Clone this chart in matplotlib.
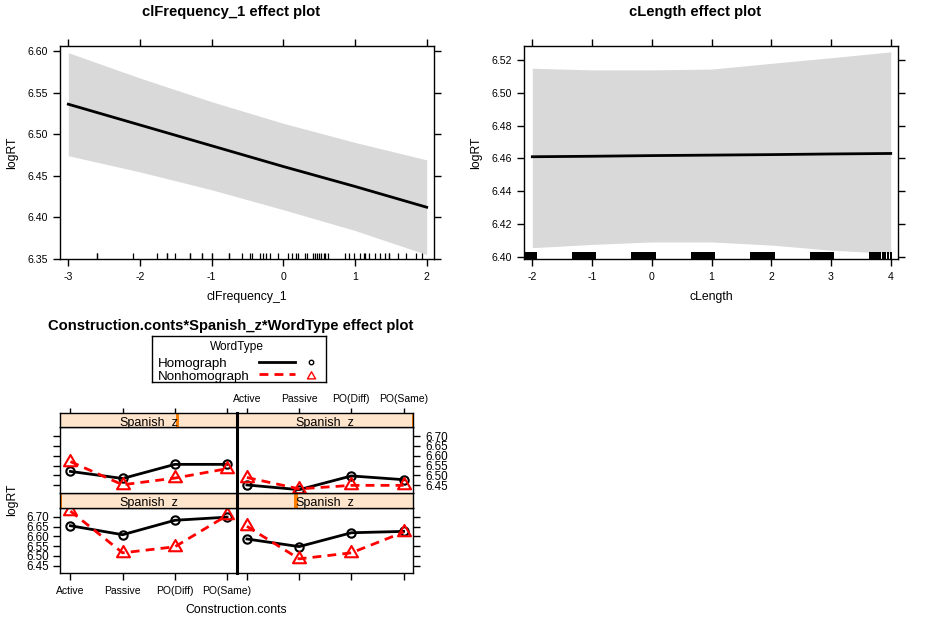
import numpy as np
import matplotlib
matplotlib.use('Agg')
import matplotlib.pyplot as plt
from matplotlib.lines import Line2D
from matplotlib.path import Path
from matplotlib.patches import Rectangle

plt.rcParams['font.family'] = ['Liberation Sans', 'DejaVu Sans']

# ---------------- data ----------------
# clFrequency_1 effect
freq_x = [-3, -2, -1, 0, 1, 2]
freq_fit = [6.536, 6.511, 6.486, 6.461, 6.437, 6.412]
freq_upper = [6.598, 6.5675, 6.539, 6.513, 6.490, 6.469]
freq_lower = [6.474, 6.4545, 6.433, 6.409, 6.384, 6.355]
freq_rug = [-2.605, -2.60, -2.093, -1.758, -1.628, -1.62, -1.507, -1.302, -1.296,
            -1.140, -1.134, -1.0, -0.994, -0.758, -0.752, -0.572, -0.467, -0.435,
            -0.327, -0.28, -0.248, -0.187, -0.07, 0.07, 0.117, 0.173, 0.2, 0.304,
            0.327, 0.42, 0.444, 0.467, 0.5, 0.528, 0.561, 0.584, 0.621, 0.864,
            0.911, 0.98, 1.075, 1.121, 1.145, 1.2, 1.285, 1.355, 1.425, 1.472,
            1.48, 1.6, 1.706, 1.846, 1.94]
freq_xticks = [-3, -2, -1, 0, 1, 2]
freq_yticks = [6.35, 6.40, 6.45, 6.50, 6.55, 6.60]

# cLength effect
len_x = [-2, -1, 0, 1, 2, 3, 4]
len_fit = [6.4610, 6.4613, 6.4617, 6.4620, 6.4623, 6.4627, 6.4630]
len_upper = [6.5150, 6.5140, 6.5140, 6.5145, 6.5180, 6.5214, 6.5250]
len_lower = [6.4055, 6.4075, 6.4090, 6.4090, 6.4071, 6.4040, 6.4020]
len_rug_blocks = [(-2.134, -1.927), (-1.330, -0.940), (-0.348, 0.065),
                  (0.656, 1.058), (1.644, 2.063), (2.648, 3.050),
                  (3.636, 3.837), (3.848, 3.915), (3.932, 3.971),
                  (3.993, 4.015), (4.032, 4.043)]
len_xticks = [-2, -1, 0, 1, 2, 3, 4]
len_yticks = [6.40, 6.42, 6.44, 6.46, 6.48, 6.50, 6.52]

# Construction.conts * Spanish_z * WordType effect (panels 1..4 = BL, BR, TL, TR)
constructions = ['Active', 'Passive', 'PO(Diff)', 'PO(Same)']
homograph = [
    [6.654, 6.608, 6.682, 6.698],
    [6.586, 6.547, 6.618, 6.625],
    [6.520, 6.484, 6.556, 6.556],
    [6.451, 6.427, 6.497, 6.478],
]
nonhomograph = [
    [6.729, 6.515, 6.546, 6.707],
    [6.651, 6.484, 6.515, 6.621],
    [6.570, 6.452, 6.486, 6.534],
    [6.489, 6.431, 6.449, 6.449],
]
spanish_z_pos = [0.0, 0.335, 0.663, 1.0]   # shingle indicator position in strip
lattice_yticks = [6.45, 6.50, 6.55, 6.60, 6.65, 6.70]

# ---------------- figure ----------------
W, H = 928, 627
fig = plt.figure(figsize=(W / 100, H / 100), dpi=100)


def rect(x0, y0, x1, y1):
    return [x0 / W, 1 - y1 / H, (x1 - x0) / W, (y1 - y0) / H]


def fx(x):
    return x / W


def fy(y):
    return 1 - y / H


BAND = '#D9D9D9'
TITLE_FS = 10.6
LABEL_FS = 8.8
TICK_FS = 7.6


def style_top(ax):
    for s in ax.spines.values():
        s.set_linewidth(1.0)
    ax.tick_params(direction='out', length=5, width=1, top=True, right=True,
                   labeltop=False, labelright=False, labelsize=TICK_FS)
    ax.tick_params(axis='y', pad=4)
    ax.tick_params(axis='x', pad=4.5)


# ---- clFrequency_1 plot ----
ax1 = fig.add_axes(rect(60.3, 46.3, 434.3, 259))
ax1.fill_between(freq_x, freq_lower, freq_upper, color=BAND, lw=0)
ax1.plot(freq_x, freq_fit, color='black', lw=2)
ax1.vlines(freq_rug, 0, 0.028, transform=ax1.get_xaxis_transform(),
           color='black', lw=0.9)
ax1.set_xlim(-3.112, 2.106)
ax1.set_ylim(6.3497, 6.6057)
ax1.set_xticks(freq_xticks)
ax1.set_xticklabels([str(v) for v in freq_xticks])
ax1.set_yticks(freq_yticks)
ax1.set_yticklabels(['%.2f' % v for v in freq_yticks])
style_top(ax1)
fig.text(fx(231), fy(12), 'clFrequency_1 effect plot', ha='center', va='center',
         fontsize=TITLE_FS, fontweight='bold')
fig.text(fx(247), fy(297), 'clFrequency_1', ha='center', va='center',
         fontsize=LABEL_FS)
fig.text(fx(12), fy(153), 'logRT', ha='center', va='center', fontsize=LABEL_FS,
         rotation=90)

# ---- cLength plot ----
ax2 = fig.add_axes(rect(524.3, 46.3, 898, 259))
ax2.fill_between(len_x, len_lower, len_upper, color=BAND, lw=0)
ax2.plot(len_x, len_fit, color='black', lw=2)
ax2.broken_barh([(a, b - a) for a, b in len_rug_blocks], (0, 0.033),
                transform=ax2.get_xaxis_transform(), facecolor='black', lw=0)
ax2.set_xlim(-2.134, 4.122)
ax2.set_ylim(6.3986, 6.5284)
ax2.set_xticks(len_xticks)
ax2.set_xticklabels([str(v) for v in len_xticks])
ax2.set_yticks(len_yticks)
ax2.set_yticklabels(['%.2f' % v for v in len_yticks])
style_top(ax2)
fig.text(fx(695), fy(12), 'cLength effect plot', ha='center', va='center',
         fontsize=TITLE_FS, fontweight='bold')
fig.text(fx(711), fy(297), 'cLength', ha='center', va='center', fontsize=LABEL_FS)
fig.text(fx(476), fy(153), 'logRT', ha='center', va='center', fontsize=LABEL_FS,
         rotation=90)

# ---- lattice plot ----
fig.text(fx(231), fy(326), 'Construction.conts*Spanish_z*WordType effect plot',
         ha='center', va='center', fontsize=TITLE_FS, fontweight='bold')

tri_marker = Path([(0, 1.555), (1.347, -0.778), (-1.347, -0.778), (0, 1.555)],
                  [Path.MOVETO, Path.LINETO, Path.LINETO, Path.CLOSEPOLY])

cols = [(60.5, 237), (237, 413.5)]
rows = {'top': ((413.3, 427.3), (427.3, 493)),
        'bottom': ((493, 508), (508, 573.3))}
# panel index -> (row, col)
layout = [('bottom', 0), ('bottom', 1), ('top', 0), ('top', 1)]

xpos = np.arange(len(constructions))
XLIM = (-0.19, 3.19)
YLIM = (6.41, 6.745)

for i, (row, col) in enumerate(layout):
    (s0, s1), (p0, p1) = rows[row]
    x0, x1 = cols[col]
    ax = fig.add_axes(rect(x0, p0, x1, p1))
    ax.plot(xpos, homograph[i], color='black', lw=2, marker='o', ms=6,
            mfc='none', mec='black', mew=1.5)
    ax.plot(xpos, nonhomograph[i], color='red', lw=2, ls=(0, (3.2, 2.2)),
            marker=tri_marker, ms=10.8, mfc='none', mec='red', mew=1.5)
    ax.set_xlim(*XLIM)
    ax.set_ylim(*YLIM)
    for s in ax.spines.values():
        s.set_linewidth(1.0)
    ax.set_yticks(lattice_yticks)
    ax.set_yticklabels(['%.2f' % v for v in lattice_yticks])
    ax.set_xticks(xpos)
    ax.set_xticklabels(constructions)
    ax.tick_params(direction='out', width=1)
    ax.tick_params(axis='y', length=4.8, labelsize=8.4,
                   left=(col == 0), labelleft=(col == 0 and row == 'bottom'),
                   right=(col == 1), labelright=(col == 1 and row == 'top'),
                   pad=3.6)
    ax.tick_params(axis='x', length=5, labelsize=7.5, bottom=(row == 'bottom'),
                   labelbottom=(row == 'bottom' and col == 0),
                   top=False, labeltop=False, pad=4)

    # strip
    st = fig.add_axes(rect(x0, s0, x1, s1))
    st.set_facecolor('#FFE5CC')
    st.set_xlim(*XLIM)
    st.set_ylim(0, 1)
    for s in st.spines.values():
        s.set_linewidth(1.0)
    st.set_yticks([])
    st.add_patch(Rectangle((spanish_z_pos[i] - 0.011, 0), 0.022, 1,
                           transform=st.transAxes, facecolor='#FF7F00', lw=0,
                           clip_on=True, zorder=1))
    base = 1.6 / (s1 - s0) if row == 'top' else 2.0 / (s1 - s0)
    st.text(0.5, base, 'Spanish_z', transform=st.transAxes, ha='center',
            va='baseline', fontsize=9, clip_on=True, zorder=3)
    if row == 'top':
        st.set_xticks(xpos)
        st.set_xticklabels(constructions)
        st.tick_params(axis='x', direction='out', length=3.8, width=1,
                       bottom=False, labelbottom=False, top=True,
                       labeltop=(col == 1), labelsize=7.5, pad=3)
    else:
        st.set_xticks([])

# thick separator between columns
fig.add_artist(Line2D([fx(237), fx(237)], [fy(413.3), fy(573.3)],
                      color='black', lw=2.2, transform=fig.transFigure))

fig.text(fx(236), fy(610), 'Construction.conts', ha='center', va='center',
         fontsize=LABEL_FS)
fig.text(fx(12), fy(500), 'logRT', ha='center', va='center', fontsize=LABEL_FS,
         rotation=90)

# legend
lg = fig.add_axes(rect(151.7, 336, 326, 382.3))
lg.set_xticks([])
lg.set_yticks([])
lg.patch.set_alpha(0)
for s in lg.spines.values():
    s.set_linewidth(1.0)
fig.text(fx(237), fy(347), 'WordType', ha='center', va='center', fontsize=8.6)
fig.text(fx(158.3), fy(364), 'Homograph', ha='left', va='center', fontsize=9.6)
fig.text(fx(158.3), fy(376.7), 'Nonhomograph', ha='left', va='center',
         fontsize=9.6)
fig.add_artist(Line2D([fx(259.3), fx(295)], [fy(362.3), fy(362.3)],
                      color='black', lw=2, transform=fig.transFigure))
fig.add_artist(Line2D([fx(259.3), fx(295)], [fy(374.3), fy(374.3)],
                      color='red', lw=2, ls=(0, (3.2, 2.2)),
                      transform=fig.transFigure))
fig.add_artist(Line2D([fx(310.7)], [fy(362.3)], marker='o', ms=3.2,
                      mfc='none', mec='black', mew=1, ls='none',
                      transform=fig.transFigure))
fig.add_artist(Line2D([fx(310.7)], [fy(375.5)], marker=tri_marker, ms=6.8,
                      mfc='none', mec='red', mew=1, ls='none',
                      transform=fig.transFigure))

fig.savefig('out.png', dpi=100)
